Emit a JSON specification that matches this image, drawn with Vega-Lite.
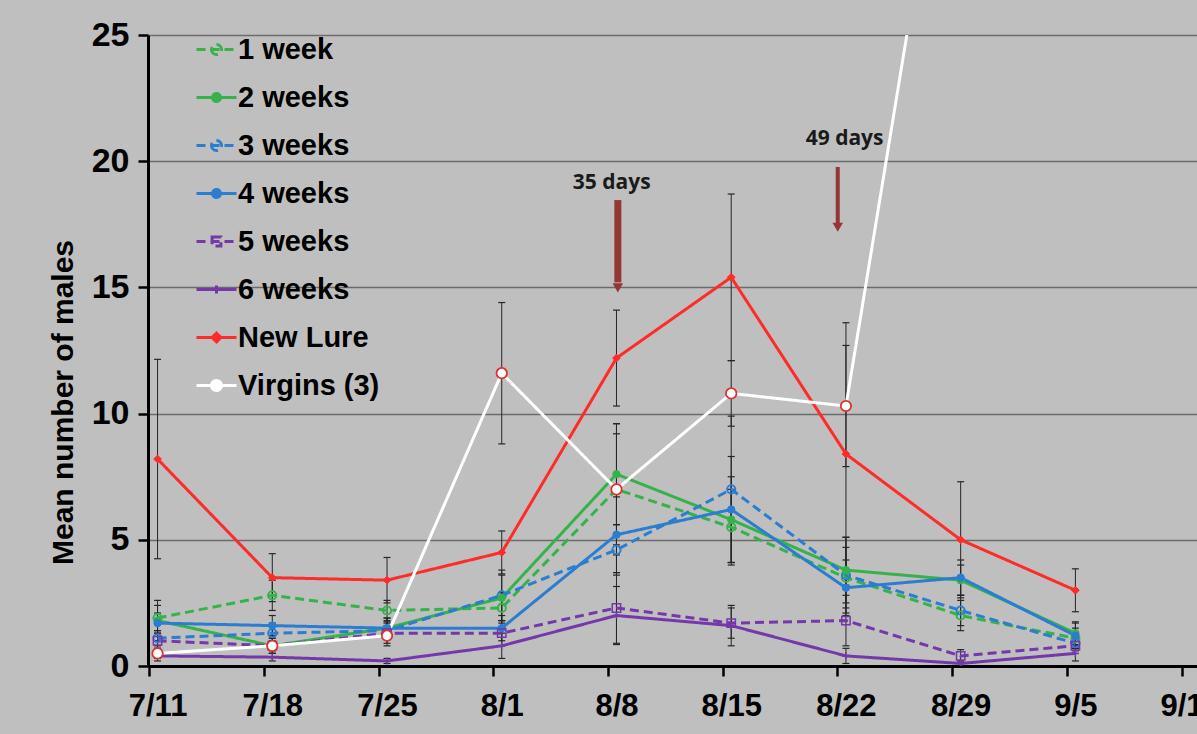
{
  "$schema": "https://vega.github.io/schema/vega-lite/v6.json",
  "width": 1076,
  "height": 631,
  "autosize": {"type": "none"},
  "padding": {"left": 148, "top": 35, "right": 0, "bottom": 68},
  "background": "#bfbfbf",
  "config": {
    "view": {"stroke": null},
    "legend": {
      "padding": 0,
      "symbolSize": 1600,
      "symbolStrokeWidth": 3,
      "labelFont": "Liberation Sans",
      "labelFontSize": 29,
      "labelFontWeight": "bold",
      "labelColor": "#000000",
      "labelOffset": 0,
      "labelLimit": 300,
      "rowPadding": 11,
      "symbolOpacity": 1
    }
  },
  "datasets": {
    "series": [
      {"date": "2011-07-11", "series": "1 week", "value": 1.9, "err": 0.5},
      {"date": "2011-07-18", "series": "1 week", "value": 2.8, "err": 0.6},
      {"date": "2011-07-25", "series": "1 week", "value": 2.2, "err": 0.4},
      {"date": "2011-08-01", "series": "1 week", "value": 2.3, "err": 0.6},
      {"date": "2011-08-08", "series": "1 week", "value": 7.0, "err": 2.2},
      {"date": "2011-08-15", "series": "1 week", "value": 5.5, "err": 1.5},
      {"date": "2011-08-22", "series": "1 week", "value": 3.5, "err": 1.2},
      {"date": "2011-08-29", "series": "1 week", "value": 2.0, "err": 0.6},
      {"date": "2011-09-05", "series": "1 week", "value": 1.1, "err": 0.4},
      {"date": "2011-07-11", "series": "2 weeks", "value": 1.8, "err": 0.8},
      {"date": "2011-07-18", "series": "2 weeks", "value": 0.8, "err": 0.3},
      {"date": "2011-07-25", "series": "2 weeks", "value": 1.5, "err": 0.4},
      {"date": "2011-08-01", "series": "2 weeks", "value": 2.7, "err": 0.9},
      {"date": "2011-08-08", "series": "2 weeks", "value": 7.6, "err": 2.0},
      {"date": "2011-08-15", "series": "2 weeks", "value": 5.8, "err": 1.7},
      {"date": "2011-08-22", "series": "2 weeks", "value": 3.8, "err": 1.3},
      {"date": "2011-08-29", "series": "2 weeks", "value": 3.4, "err": 0.6},
      {"date": "2011-09-05", "series": "2 weeks", "value": 1.3, "err": 0.45},
      {"date": "2011-07-11", "series": "3 weeks", "value": 1.1, "err": 0.3},
      {"date": "2011-07-18", "series": "3 weeks", "value": 1.3, "err": 0.4},
      {"date": "2011-07-25", "series": "3 weeks", "value": 1.4, "err": 0.35},
      {"date": "2011-08-01", "series": "3 weeks", "value": 2.8, "err": 1.0},
      {"date": "2011-08-08", "series": "3 weeks", "value": 4.6, "err": 1.0},
      {"date": "2011-08-15", "series": "3 weeks", "value": 7.0, "err": 2.9},
      {"date": "2011-08-22", "series": "3 weeks", "value": 3.6, "err": 1.5},
      {"date": "2011-08-29", "series": "3 weeks", "value": 2.2, "err": 0.6},
      {"date": "2011-09-05", "series": "3 weeks", "value": 0.9, "err": 0.3},
      {"date": "2011-07-11", "series": "4 weeks", "value": 1.7, "err": 0.4},
      {"date": "2011-07-18", "series": "4 weeks", "value": 1.6, "err": 0.4},
      {"date": "2011-07-25", "series": "4 weeks", "value": 1.5, "err": 0.4},
      {"date": "2011-08-01", "series": "4 weeks", "value": 1.5, "err": 0.5},
      {"date": "2011-08-08", "series": "4 weeks", "value": 5.2, "err": 1.5},
      {"date": "2011-08-15", "series": "4 weeks", "value": 6.2, "err": 2.1},
      {"date": "2011-08-22", "series": "4 weeks", "value": 3.1, "err": 1.1},
      {"date": "2011-08-29", "series": "4 weeks", "value": 3.5, "err": 0.7},
      {"date": "2011-09-05", "series": "4 weeks", "value": 1.2, "err": 0.5},
      {"date": "2011-07-11", "series": "5 weeks", "value": 1.0, "err": 0.3},
      {"date": "2011-07-18", "series": "5 weeks", "value": 0.8, "err": 0.3},
      {"date": "2011-07-25", "series": "5 weeks", "value": 1.3, "err": 0.4},
      {"date": "2011-08-01", "series": "5 weeks", "value": 1.3, "err": 0.5},
      {"date": "2011-08-08", "series": "5 weeks", "value": 2.3, "err": 1.4},
      {"date": "2011-08-15", "series": "5 weeks", "value": 1.7, "err": 0.6},
      {"date": "2011-08-22", "series": "5 weeks", "value": 1.8, "err": 1.0},
      {"date": "2011-08-29", "series": "5 weeks", "value": 0.4, "err": 0.25},
      {"date": "2011-09-05", "series": "5 weeks", "value": 0.8, "err": 0.3},
      {"date": "2011-07-11", "series": "6 weeks", "value": 0.4, "err": 0.2},
      {"date": "2011-07-18", "series": "6 weeks", "value": 0.35, "err": 0.15},
      {"date": "2011-07-25", "series": "6 weeks", "value": 0.2, "err": 0.1},
      {"date": "2011-08-01", "series": "6 weeks", "value": 0.8, "err": 0.5},
      {"date": "2011-08-08", "series": "6 weeks", "value": 2.0, "err": 1.15},
      {"date": "2011-08-15", "series": "6 weeks", "value": 1.6, "err": 0.8},
      {"date": "2011-08-22", "series": "6 weeks", "value": 0.4, "err": 0.3},
      {"date": "2011-08-29", "series": "6 weeks", "value": 0.1, "err": 0.1},
      {"date": "2011-09-05", "series": "6 weeks", "value": 0.5, "err": 0.3},
      {"date": "2011-07-11", "series": "New Lure", "value": 8.2, "err": 3.95},
      {"date": "2011-07-18", "series": "New Lure", "value": 3.5, "err": 0.95},
      {"date": "2011-07-25", "series": "New Lure", "value": 3.4, "err": 0.9},
      {"date": "2011-08-01", "series": "New Lure", "value": 4.5, "err": 0.85},
      {"date": "2011-08-08", "series": "New Lure", "value": 12.2, "err": 1.9},
      {"date": "2011-08-15", "series": "New Lure", "value": 15.4, "err": 3.3},
      {"date": "2011-08-22", "series": "New Lure", "value": 8.4, "err": 5.2},
      {"date": "2011-08-29", "series": "New Lure", "value": 5.0, "err": 2.3},
      {"date": "2011-09-05", "series": "New Lure", "value": 3.0, "err": 0.85},
      {"date": "2011-07-11", "series": "Virgins (3)", "value": 0.5, "err": 0.2},
      {"date": "2011-07-18", "series": "Virgins (3)", "value": 0.8, "err": 0.2},
      {"date": "2011-07-25", "series": "Virgins (3)", "value": 1.2, "err": 0.4},
      {"date": "2011-08-01", "series": "Virgins (3)", "value": 11.6, "err": 2.8},
      {"date": "2011-08-08", "series": "Virgins (3)", "value": 7.0, "err": 2.6},
      {"date": "2011-08-15", "series": "Virgins (3)", "value": 10.8, "err": 1.3},
      {"date": "2011-08-22", "series": "Virgins (3)", "value": 10.3, "err": 2.4},
      {"date": "2011-08-29", "series": "Virgins (3)", "value": 38.0, "err": null}
    ],
    "arrows": [
      {"label": "35 days", "date": "2011-08-08T02:00:00Z", "value": 18.46, "tip": 15.2},
      {"label": "49 days", "date": "2011-08-21T12:00:00Z", "value": 19.77, "tip": 17.55}
    ],
    "heads": [
      {"label": "35 days", "date": "2011-08-08T02:00:00Z", "value": 14.98},
      {"label": "49 days", "date": "2011-08-21T12:00:00Z", "value": 17.38}
    ],
    "notes": [
      {"label": "35 days", "date": "2011-08-07T17:00:00Z", "value": 19.14},
      {"label": "49 days", "date": "2011-08-21T22:00:00Z", "value": 20.88}
    ]
  },
  "encoding": {
    "x": {
      "field": "date",
      "type": "temporal",
      "scale": {
        "type": "utc",
        "nice": false,
        "domain": [
          {"year": 2011, "month": 7, "date": 10, "hours": 10, "utc": true},
          {"year": 2011, "month": 9, "date": 14, "hours": 1, "minutes": 36, "utc": true}
        ]
      },
      "axis": {
        "title": null,
        "values": [
          {"year": 2011, "month": 7, "date": 11, "utc": true},
          {"year": 2011, "month": 7, "date": 18, "utc": true},
          {"year": 2011, "month": 7, "date": 25, "utc": true},
          {"year": 2011, "month": 8, "date": 1, "utc": true},
          {"year": 2011, "month": 8, "date": 8, "utc": true},
          {"year": 2011, "month": 8, "date": 15, "utc": true},
          {"year": 2011, "month": 8, "date": 22, "utc": true},
          {"year": 2011, "month": 8, "date": 29, "utc": true},
          {"year": 2011, "month": 9, "date": 5, "utc": true},
          {"year": 2011, "month": 9, "date": 12, "utc": true}
        ],
        "format": "%-m/%-d",
        "grid": false,
        "tickOffset": -8.5,
        "labelOffset": 8.5,
        "domainColor": "#000000",
        "domainWidth": 3,
        "tickColor": "#000000",
        "tickWidth": 2.5,
        "tickSize": 10,
        "labelFont": "Liberation Sans",
        "labelFontWeight": "bold",
        "labelFontSize": 31,
        "labelColor": "#000000",
        "labelPadding": 15,
        "labelFlush": false,
        "labelOverlap": false,
        "labelBound": false
      }
    },
    "y": {
      "field": "value",
      "type": "quantitative",
      "scale": {"domain": [0, 25], "nice": false},
      "axis": {
        "values": [0, 5, 10, 15, 20, 25],
        "title": "Mean number of males",
        "titleFont": "Liberation Sans",
        "titleFontSize": 30,
        "titleFontWeight": "bold",
        "titleColor": "#000000",
        "titleX": -76,
        "titleY": 367,
        "titleBaseline": "alphabetic",
        "titleAlign": "center",
        "titleAngle": 270,
        "grid": true,
        "gridColor": "#6b6b6b",
        "gridWidth": 1.5,
        "domainColor": "#000000",
        "domainWidth": 3,
        "tickColor": "#000000",
        "tickWidth": 2.5,
        "tickSize": 10,
        "labelFont": "Liberation Sans",
        "labelFontWeight": "bold",
        "labelFontSize": 34,
        "labelColor": "#000000",
        "labelPadding": 9,
        "labelFlush": false
      }
    }
  },
  "layer": [
    {
      "data": {"name": "series"},
      "transform": [{"filter": "isValid(datum.err)"}],
      "mark": {
        "type": "errorbar",
        "clip": true,
        "color": "#262626",
        "ticks": {"size": 7, "thickness": 1.2, "color": "#262626", "opacity": 1},
        "rule": {"strokeWidth": 1, "color": "#262626", "opacity": 1}
      },
      "encoding": {
        "yError": {"field": "err"}
      }
    },
    {
      "data": {"name": "series"},
      "mark": {"type": "line", "strokeWidth": 3, "clip": true},
      "encoding": {
        "stroke": {
          "field": "series", "type": "nominal", "title": null,
          "scale": {
            "domain": ["1 week", "2 weeks", "3 weeks", "4 weeks", "5 weeks", "6 weeks", "New Lure", "Virgins (3)"],
            "range": ["#35b34a", "#35b34a", "#2a7dd1", "#2a7dd1", "#7438aa", "#7438aa", "#ff2b2b", "#ffffff"]
          }
        },
        "strokeDash": {
          "field": "series", "type": "nominal", "title": null,
          "scale": {
            "domain": ["1 week", "2 weeks", "3 weeks", "4 weeks", "5 weeks", "6 weeks", "New Lure", "Virgins (3)"],
            "range": [[9, 5], [1, 0], [9, 5], [1, 0], [9, 5], [1, 0], [1, 0], [1, 0]]
          }
        }
      }
    },
    {
      "data": {"name": "series"},
      "transform": [{"filter": "false"}],
      "mark": {"type": "point", "opacity": 1, "strokeWidth": 3},
      "encoding": {
        "stroke": {
          "field": "series", "type": "nominal", "title": null,
          "legend": {"orient": "none", "legendX": 47, "legendY": -7, "title": null},
          "scale": {
            "domain": ["1 week", "2 weeks", "3 weeks", "4 weeks", "5 weeks", "6 weeks", "New Lure", "Virgins (3)"],
            "range": ["#35b34a", "#35b34a", "#2a7dd1", "#2a7dd1", "#7438aa", "#7438aa", "#ff2b2b", "#ffffff"]
          }
        },
        "fill": {
          "field": "series", "type": "nominal", "title": null,
          "scale": {
            "domain": ["1 week", "2 weeks", "3 weeks", "4 weeks", "5 weeks", "6 weeks", "New Lure", "Virgins (3)"],
            "range": ["transparent", "#35b34a", "transparent", "#2a7dd1", "transparent", "transparent", "#ff2b2b", "#ffffff"]
          }
        },
        "strokeDash": {
          "field": "series", "type": "nominal", "title": null,
          "scale": {
            "domain": ["1 week", "2 weeks", "3 weeks", "4 weeks", "5 weeks", "6 weeks", "New Lure", "Virgins (3)"],
            "range": [[9, 5], [1, 0], [9, 5], [1, 0], [9, 5], [1, 0], [1, 0], [1, 0]]
          }
        },
        "shape": {
          "field": "series", "type": "nominal", "title": null,
          "scale": {
            "domain": ["1 week", "2 weeks", "3 weeks", "4 weeks", "5 weeks", "6 weeks", "New Lure", "Virgins (3)"],
            "range": [
              "M-1,0H1M-0.25,0A0.25,0.25 0 1 0 0.25,0A0.25,0.25 0 1 0 -0.25,0Z",
              "M-1,0H1M-0.2,0A0.2,0.2 0 1 0 0.2,0A0.2,0.2 0 1 0 -0.2,0Z",
              "M-1,0H1M-0.25,0A0.25,0.25 0 1 0 0.25,0A0.25,0.25 0 1 0 -0.25,0Z",
              "M-1,0H1M-0.2,0A0.2,0.2 0 1 0 0.2,0A0.2,0.2 0 1 0 -0.2,0Z",
              "M-1,0H1M-0.22,-0.22H0.22V0.22H-0.22Z",
              "M-1,0H1M0,-0.2V0.2",
              "M-1,0H1M0,-0.22L0.22,0L0,0.22L-0.22,0Z",
              "M-1,0H1M-0.25,0A0.25,0.25 0 1 0 0.25,0A0.25,0.25 0 1 0 -0.25,0Z"
            ]
          }
        }
      }
    },
    {
      "data": {"name": "series"},
      "transform": [{"filter": {"field": "series", "oneOf": ["1 week", "3 weeks"]}}],
      "mark": {"type": "point", "shape": "circle", "size": 70, "strokeWidth": 1.8, "opacity": 1, "filled": false, "clip": true},
      "encoding": {
        "stroke": {"field": "series", "type": "nominal", "title": null}
      }
    },
    {
      "data": {"name": "series"},
      "transform": [{"filter": {"field": "series", "oneOf": ["2 weeks", "4 weeks"]}}],
      "mark": {"type": "point", "shape": "circle", "size": 55, "strokeWidth": 1, "opacity": 1, "clip": true},
      "encoding": {
        "stroke": {"field": "series", "type": "nominal", "title": null},
        "fill": {"field": "series", "type": "nominal", "title": null}
      }
    },
    {
      "data": {"name": "series"},
      "transform": [{"filter": {"field": "series", "equal": "5 weeks"}}],
      "mark": {"type": "point", "shape": "square", "size": 70, "strokeWidth": 1.5, "opacity": 1, "filled": false, "stroke": "#7438aa", "clip": true}
    },
    {
      "data": {"name": "series"},
      "transform": [{"filter": {"field": "series", "equal": "6 weeks"}}],
      "mark": {"type": "point", "shape": "M-1,0H1M0,-1V1", "size": 50, "strokeWidth": 1.5, "opacity": 1, "filled": false, "stroke": "#7438aa", "clip": true}
    },
    {
      "data": {"name": "series"},
      "transform": [{"filter": {"field": "series", "equal": "New Lure"}}],
      "mark": {"type": "point", "shape": "diamond", "size": 60, "opacity": 1, "filled": true, "fill": "#ff2b2b", "stroke": "#ff2b2b", "strokeWidth": 1, "clip": true}
    },
    {
      "data": {"name": "series"},
      "transform": [{"filter": {"field": "series", "equal": "Virgins (3)"}}],
      "mark": {"type": "point", "shape": "circle", "size": 110, "opacity": 1, "fill": "#ffffff", "stroke": "#e03030", "strokeWidth": 1.8, "clip": true}
    },
    {
      "data": {"name": "arrows"},
      "transform": [{"filter": {"field": "label", "equal": "35 days"}}],
      "mark": {"type": "rule", "color": "#943634", "strokeWidth": 7, "strokeCap": "butt"},
      "encoding": {"y2": {"field": "tip"}}
    },
    {
      "data": {"name": "arrows"},
      "transform": [{"filter": {"field": "label", "equal": "49 days"}}],
      "mark": {"type": "rule", "color": "#943634", "strokeWidth": 4, "strokeCap": "butt"},
      "encoding": {"y2": {"field": "tip"}}
    },
    {
      "data": {"name": "heads"},
      "mark": {"type": "point", "shape": "triangle-down", "size": 110, "filled": true, "opacity": 1, "color": "#943634"}
    },
    {
      "data": {"name": "notes"},
      "mark": {"type": "text", "font": "Open Sans", "fontWeight": "bold", "fontSize": 21, "color": "#1a1a1a", "align": "center", "baseline": "middle"},
      "encoding": {"text": {"field": "label", "type": "nominal"}}
    }
  ]
}
